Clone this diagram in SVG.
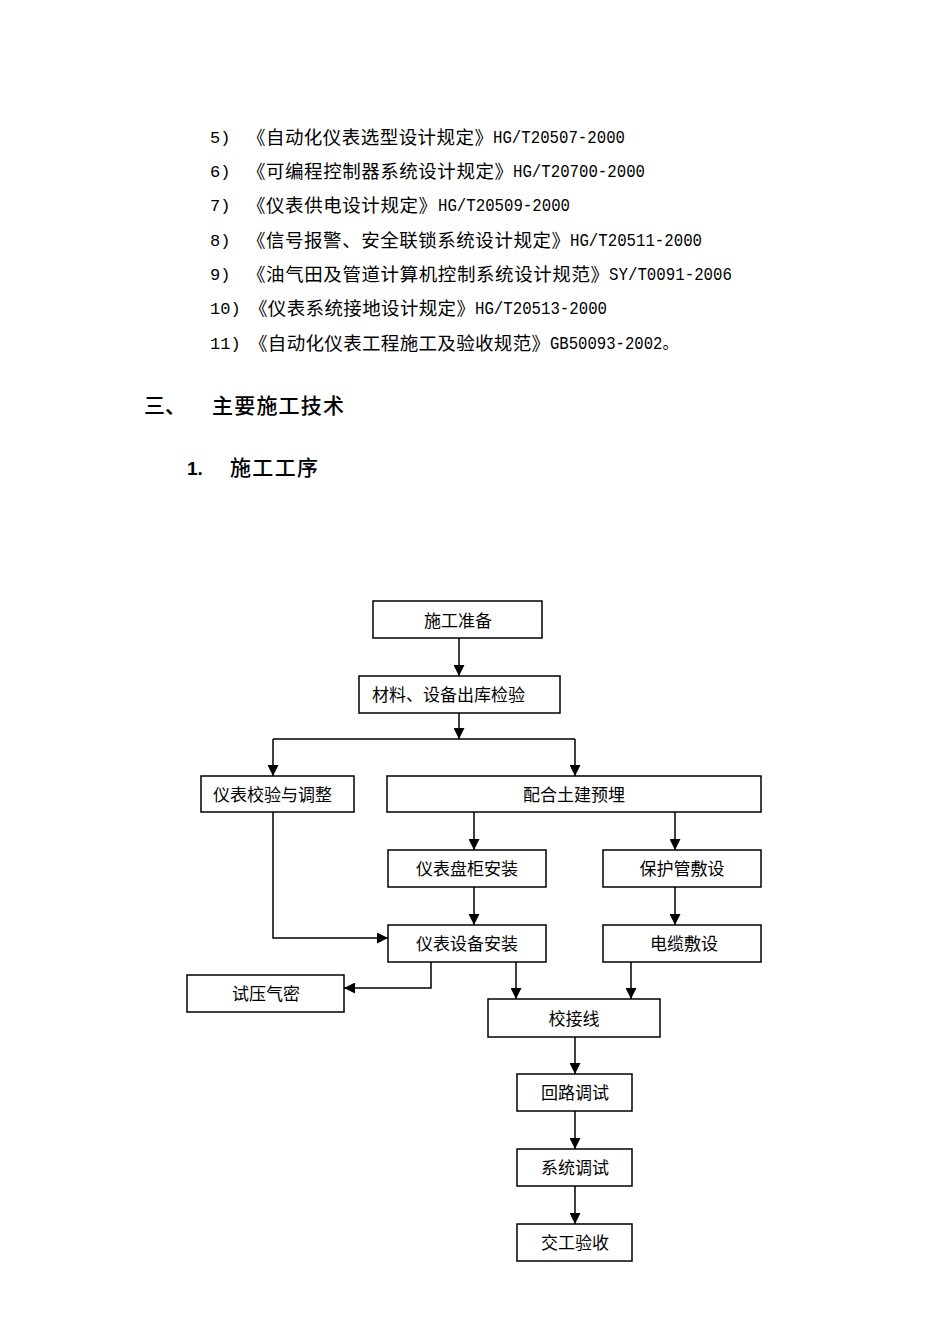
<svg xmlns="http://www.w3.org/2000/svg" width="950" height="1344" viewBox="0 0 950 1344">
<style>
.cjk{font-family:"Noto Sans CJK SC","Noto Sans",sans-serif;font-size:18.5px;fill:#000}
.lat{font-family:"Liberation Mono","DejaVu Sans Mono","Noto Sans CJK SC",monospace;font-size:18px;fill:#000}
.num{font-family:"Liberation Mono","DejaVu Sans Mono",monospace;font-size:17px;fill:#000}
.h{font-family:"Noto Sans CJK SC",sans-serif;font-size:21px;font-weight:500;fill:#000}
.box{fill:#fff;stroke:#000;stroke-width:1.5}
.lbl{font-family:"Noto Sans CJK SC","Noto Sans",sans-serif;font-size:17px;fill:#000;dominant-baseline:central}
.ln{fill:none;stroke:#000;stroke-width:1.5}
</style>
<defs>
<marker id="arr" markerUnits="userSpaceOnUse" markerWidth="11" markerHeight="11" refX="10" refY="5" orient="auto" viewBox="0 0 10 10">
<path d="M0,0 L10,5 L0,10 z" fill="#000"/>
</marker>
</defs>
<rect width="950" height="1344" fill="#fff"/>
<g id="refs">
<text class="num" x="210" y="143">5)</text>
<text class="cjk" x="247" y="144" textLength="246" lengthAdjust="spacing">《自动化仪表选型设计规定》</text>
<text class="lat" x="493" y="143" textLength="132" lengthAdjust="spacingAndGlyphs">HG/T20507-2000</text>
<text class="num" x="210" y="177">6)</text>
<text class="cjk" x="247" y="178" textLength="266" lengthAdjust="spacing">《可编程控制器系统设计规定》</text>
<text class="lat" x="513" y="177" textLength="132" lengthAdjust="spacingAndGlyphs">HG/T20700-2000</text>
<text class="num" x="210" y="211">7)</text>
<text class="cjk" x="247" y="212" textLength="190" lengthAdjust="spacing">《仪表供电设计规定》</text>
<text class="lat" x="438" y="211" textLength="132" lengthAdjust="spacingAndGlyphs">HG/T20509-2000</text>
<text class="num" x="210" y="246">8)</text>
<text class="cjk" x="247" y="247" textLength="323" lengthAdjust="spacing">《信号报警、安全联锁系统设计规定》</text>
<text class="lat" x="570" y="246" textLength="132" lengthAdjust="spacingAndGlyphs">HG/T20511-2000</text>
<text class="num" x="210" y="280">9)</text>
<text class="cjk" x="247" y="281" textLength="362" lengthAdjust="spacing">《油气田及管道计算机控制系统设计规范》</text>
<text class="lat" x="609" y="280" textLength="123" lengthAdjust="spacingAndGlyphs">SY/T0091-2006</text>
<text class="num" x="210" y="314">10)</text>
<text class="cjk" x="249" y="315" textLength="226" lengthAdjust="spacing">《仪表系统接地设计规定》</text>
<text class="lat" x="475" y="314" textLength="132" lengthAdjust="spacingAndGlyphs">HG/T20513-2000</text>
<text class="num" x="210" y="349">11)</text>
<text class="cjk" x="249" y="350" textLength="301" lengthAdjust="spacing">《自动化仪表工程施工及验收规范》</text>
<text class="lat" x="550" y="349" textLength="128" lengthAdjust="spacingAndGlyphs">GB50093-2002。</text>
</g>
<g id="headings">
<text class="h" x="144" y="413">三、</text>
<text class="h" x="212" y="413" textLength="132" lengthAdjust="spacing">主要施工技术</text>
<text class="h" x="187" y="475" style="font-family:'Liberation Sans',sans-serif;font-weight:bold;font-size:19px">1.</text>
<text class="h" x="230" y="475" textLength="88" lengthAdjust="spacing">施工工序</text>
</g>
<g id="connectors">
<path class="ln" d="M459,638 V676" marker-end="url(#arr)"/>
<path class="ln" d="M459,713 V739" marker-end="url(#arr)"/>
<path class="ln" d="M273,739 H575"/>
<path class="ln" d="M273,739 V776" marker-end="url(#arr)"/>
<path class="ln" d="M575,739 V776" marker-end="url(#arr)"/>
<path class="ln" d="M474,812 V850" marker-end="url(#arr)"/>
<path class="ln" d="M675,812 V850" marker-end="url(#arr)"/>
<path class="ln" d="M474,887 V925" marker-end="url(#arr)"/>
<path class="ln" d="M675,887 V925" marker-end="url(#arr)"/>
<path class="ln" d="M273,812 V938 H388" marker-end="url(#arr)"/>
<path class="ln" d="M431,962 V988 H344" marker-end="url(#arr)"/>
<path class="ln" d="M516,962 V999" marker-end="url(#arr)"/>
<path class="ln" d="M631,962 V999" marker-end="url(#arr)"/>
<path class="ln" d="M575,1037 V1074" marker-end="url(#arr)"/>
<path class="ln" d="M575,1111 V1149" marker-end="url(#arr)"/>
<path class="ln" d="M575,1186 V1224" marker-end="url(#arr)"/>
</g>
<g id="n1"><rect class="box" x="373" y="601" width="169" height="37"/><text class="lbl" x="458" y="619" text-anchor="middle">施工准备</text></g>
<g id="n2"><rect class="box" x="359" y="676" width="201" height="37"/><text class="lbl" x="372" y="693">材料、设备出库检验</text></g>
<g id="n3"><rect class="box" x="201" y="776" width="153" height="36"/><text class="lbl" x="213" y="793">仪表校验与调整</text></g>
<g id="n4"><rect class="box" x="387" y="776" width="374" height="36"/><text class="lbl" x="574" y="793" text-anchor="middle">配合土建预埋</text></g>
<g id="n5"><rect class="box" x="388" y="850" width="158" height="37"/><text class="lbl" x="467" y="867" text-anchor="middle">仪表盘柜安装</text></g>
<g id="n6"><rect class="box" x="603" y="850" width="158" height="37"/><text class="lbl" x="682" y="867" text-anchor="middle">保护管敷设</text></g>
<g id="n7"><rect class="box" x="388" y="925" width="158" height="37"/><text class="lbl" x="467" y="942" text-anchor="middle">仪表设备安装</text></g>
<g id="n8"><rect class="box" x="603" y="925" width="158" height="37"/><text class="lbl" x="684" y="942" text-anchor="middle">电缆敷设</text></g>
<g id="n9"><rect class="box" x="187" y="975" width="157" height="37"/><text class="lbl" x="266" y="992" text-anchor="middle">试压气密</text></g>
<g id="n10"><rect class="box" x="488" y="999" width="172" height="38"/><text class="lbl" x="574" y="1017" text-anchor="middle">校接线</text></g>
<g id="n11"><rect class="box" x="517" y="1074" width="115" height="37"/><text class="lbl" x="575" y="1091" text-anchor="middle">回路调试</text></g>
<g id="n12"><rect class="box" x="517" y="1149" width="115" height="37"/><text class="lbl" x="575" y="1166" text-anchor="middle">系统调试</text></g>
<g id="n13"><rect class="box" x="517" y="1224" width="115" height="37"/><text class="lbl" x="575" y="1241" text-anchor="middle">交工验收</text></g>
</svg>
